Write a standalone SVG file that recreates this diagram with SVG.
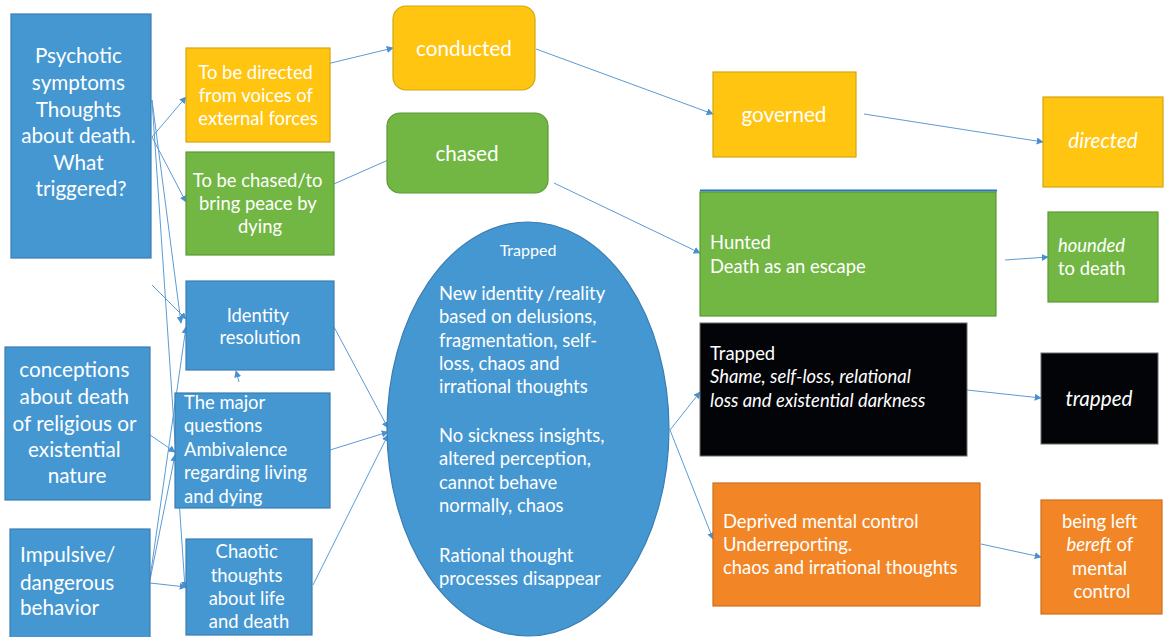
<svg xmlns="http://www.w3.org/2000/svg" width="1164" height="637" viewBox="0 0 1164 637">
  <defs>
    <marker id="arrow" viewBox="0 0 10 10" refX="9" refY="5" markerWidth="7" markerHeight="7" markerUnits="userSpaceOnUse" orient="auto">
      <path d="M0,0 L10,5 L0,10 z" fill="#4a90d0"/>
    </marker>
    <style>
      text { font-family: Lato, "Liberation Sans", sans-serif; fill: #ffffff; }
      .blue { fill: #4597d2; stroke: #3a7db3; stroke-width: 1.2; }
      .yellow { fill: #ffc511; stroke: #d6a50e; stroke-width: 1.2; }
      .green { fill: #72b743; stroke: #5d9a36; stroke-width: 1.2; }
      .orange { fill: #f28627; stroke: #cf6e1f; stroke-width: 1.2; }
      .black { fill: #030408; stroke: #6a6a6a; stroke-width: 1; }
      .c { text-anchor: middle; }
      .big { font-size: 20.7px; }
      .mid { font-size: 18.4px; }
      .it { font-style: italic; }
      #connectors line { stroke: #5b9bd5; stroke-width: 1; fill: none; }
    </style>
  </defs>

  <!-- lines drawn first so boxes sit on top of pass-through segments -->
  <g id="connectors">
    <line x1="152" y1="137" x2="186" y2="97" marker-end="url(#arrow)"/>
    <line x1="152" y1="137" x2="186" y2="202" marker-end="url(#arrow)"/>
    <line x1="152" y1="100" x2="181" y2="323" marker-end="url(#arrow)"/>
    <line x1="152" y1="100" x2="185" y2="588" marker-end="url(#arrow)"/>
    <line x1="152" y1="285" x2="186" y2="319" marker-end="url(#arrow)"/>
    <line x1="150" y1="578" x2="186" y2="327" marker-end="url(#arrow)"/>
    <line x1="150" y1="580" x2="175" y2="455" marker-end="url(#arrow)"/>
    <line x1="150" y1="435" x2="175" y2="452" marker-end="url(#arrow)"/>
    <line x1="150" y1="583" x2="186" y2="587" marker-end="url(#arrow)"/>
    <line x1="239" y1="382" x2="236" y2="371" marker-end="url(#arrow)"/>
    <line x1="334" y1="327" x2="388" y2="428" marker-end="url(#arrow)"/>
    <line x1="330" y1="450" x2="388" y2="432" marker-end="url(#arrow)"/>
    <line x1="313" y1="585" x2="388" y2="435" marker-end="url(#arrow)"/>
    <line x1="273" y1="77" x2="393" y2="48" marker-end="url(#arrow)"/>
    <line x1="293" y1="202" x2="395" y2="157" marker-end="url(#arrow)"/>
    <line x1="536" y1="49" x2="713" y2="114" marker-end="url(#arrow)"/>
    <line x1="554" y1="183" x2="700" y2="253" marker-end="url(#arrow)"/>
    <line x1="864" y1="114" x2="1043" y2="142" marker-end="url(#arrow)"/>
    <line x1="1005" y1="260" x2="1048" y2="257" marker-end="url(#arrow)"/>
    <line x1="670" y1="430" x2="700" y2="392" marker-end="url(#arrow)"/>
    <line x1="670" y1="430" x2="713" y2="539" marker-end="url(#arrow)"/>
    <line x1="967" y1="390" x2="1041" y2="398" marker-end="url(#arrow)"/>
    <line x1="981" y1="544" x2="1041" y2="557" marker-end="url(#arrow)"/>
  </g>

  <g id="psychotic">
    <rect class="blue" x="11" y="14" width="140" height="244"/>
    <text class="c big">
      <tspan x="81" y="63">Psychotic</tspan>
      <tspan x="81" y="90">symptoms</tspan>
      <tspan x="81" y="117">Thoughts</tspan>
      <tspan x="81" y="143">about death.</tspan>
      <tspan x="81" y="170">What</tspan>
      <tspan x="81" y="196">triggered?</tspan>
    </text>
  </g>

  <g id="conceptions">
    <rect class="blue" x="5" y="347" width="145" height="153"/>
    <text class="c big">
      <tspan x="77" y="377">conceptions</tspan>
      <tspan x="77" y="404">about death</tspan>
      <tspan x="77" y="431">of religious or</tspan>
      <tspan x="77" y="457">existential</tspan>
      <tspan x="77" y="483">nature</tspan>
    </text>
  </g>

  <g id="impulsive">
    <rect class="blue" x="10" y="529" width="140" height="110"/>
    <text class="big">
      <tspan x="20" y="562">Impulsive/</tspan>
      <tspan x="20" y="590">dangerous</tspan>
      <tspan x="20" y="615">behavior</tspan>
    </text>
  </g>

  <g id="to-be-directed">
    <rect class="yellow" x="186" y="48" width="144" height="94"/>
    <text class="c mid">
      <tspan x="258" y="79">To be directed</tspan>
      <tspan x="258" y="102">from voices of</tspan>
      <tspan x="258" y="125">external forces</tspan>
    </text>
  </g>

  <g id="to-be-chased">
    <rect class="green" x="186" y="152" width="148" height="103"/>
    <text class="c mid">
      <tspan x="260" y="187">To be chased/to</tspan>
      <tspan x="260" y="210">bring peace by</tspan>
      <tspan x="260" y="233">dying</tspan>
    </text>
  </g>

  <g id="identity">
    <rect class="blue" x="186" y="281" width="148" height="89"/>
    <text class="c mid">
      <tspan x="260" y="322">Identity</tspan>
      <tspan x="260" y="344">resolution</tspan>
    </text>
  </g>

  <g id="major-questions">
    <rect class="blue" x="175" y="393" width="155" height="115"/>
    <text class="mid">
      <tspan x="184" y="409">The major</tspan>
      <tspan x="184" y="432">questions</tspan>
      <tspan x="184" y="456">Ambivalence</tspan>
      <tspan x="184" y="479">regarding living</tspan>
      <tspan x="184" y="503">and dying</tspan>
    </text>
  </g>

  <g id="chaotic">
    <rect class="blue" x="186" y="539" width="126" height="96"/>
    <text class="c mid">
      <tspan x="249" y="558">Chaotic</tspan>
      <tspan x="249" y="582">thoughts</tspan>
      <tspan x="249" y="605">about life</tspan>
      <tspan x="249" y="628">and death</tspan>
    </text>
  </g>

  <g id="conducted">
    <rect class="yellow" x="393" y="6" width="142" height="84" rx="13"/>
    <text class="c big" x="464" y="56">conducted</text>
  </g>

  <g id="chased">
    <rect class="green" x="387" y="113" width="161" height="80" rx="13"/>
    <text class="c big" x="467" y="161">chased</text>
  </g>

  <g id="trapped-core">
    <ellipse class="blue" cx="528" cy="429" rx="141" ry="207"/>
    <text class="c" x="528" y="256" font-size="16">Trapped</text>
    <text class="mid">
      <tspan x="439" y="300">New identity /reality</tspan>
      <tspan x="439" y="323">based on delusions,</tspan>
      <tspan x="439" y="347">fragmentation, self-</tspan>
      <tspan x="439" y="370">loss, chaos and</tspan>
      <tspan x="439" y="393">irrational thoughts</tspan>
      <tspan x="439" y="442">No sickness insights,</tspan>
      <tspan x="439" y="465">altered perception,</tspan>
      <tspan x="439" y="489">cannot behave</tspan>
      <tspan x="439" y="512">normally, chaos</tspan>
      <tspan x="439" y="562">Rational thought</tspan>
      <tspan x="439" y="585">processes disappear</tspan>
    </text>
  </g>

  <g id="governed">
    <rect class="yellow" x="713" y="72" width="143" height="85"/>
    <text class="c big" x="784" y="122">governed</text>
  </g>

  <g id="directed">
    <rect class="yellow" x="1043" y="97" width="120" height="90"/>
    <text class="c big it" x="1103" y="148">directed</text>
  </g>

  <g id="hunted">
    <rect class="green" x="700" y="192" width="296" height="124"/>
    <line x1="700" y1="190.5" x2="997" y2="190.5" stroke="#2e75b6" stroke-width="2"/>
    <text class="mid">
      <tspan x="710" y="249">Hunted</tspan>
      <tspan x="710" y="273">Death as an escape</tspan>
    </text>
  </g>

  <g id="hounded">
    <rect class="green" x="1048" y="212" width="110" height="90"/>
    <text class="mid">
      <tspan x="1058" y="252" font-style="italic">hounded</tspan>
      <tspan x="1058" y="275">to death</tspan>
    </text>
  </g>

  <g id="trapped-box">
    <rect class="black" x="700" y="323" width="267" height="133"/>
    <text class="mid">
      <tspan x="710" y="360">Trapped</tspan>
      <tspan x="710" y="383" font-style="italic">Shame, self-loss, relational</tspan>
      <tspan x="710" y="407" font-style="italic">loss and existential darkness</tspan>
    </text>
  </g>

  <g id="trapped">
    <rect class="black" x="1041" y="353" width="117" height="91"/>
    <text class="c big it" x="1099" y="406">trapped</text>
  </g>

  <g id="deprived">
    <rect class="orange" x="713" y="483" width="267" height="123"/>
    <text class="mid">
      <tspan x="723" y="528">Deprived mental control</tspan>
      <tspan x="723" y="551">Underreporting.</tspan>
      <tspan x="723" y="574">chaos and irrational thoughts</tspan>
    </text>
  </g>

  <g id="bereft">
    <rect class="orange" x="1041" y="500" width="121" height="114"/>
    <text class="c mid">
      <tspan x="1102" y="528">being left</tspan>
      <tspan x="1102" y="551"><tspan font-style="italic">bereft</tspan> of</tspan>
      <tspan x="1102" y="575">mental</tspan>
      <tspan x="1102" y="598">control</tspan>
    </text>
  </g>
</svg>
